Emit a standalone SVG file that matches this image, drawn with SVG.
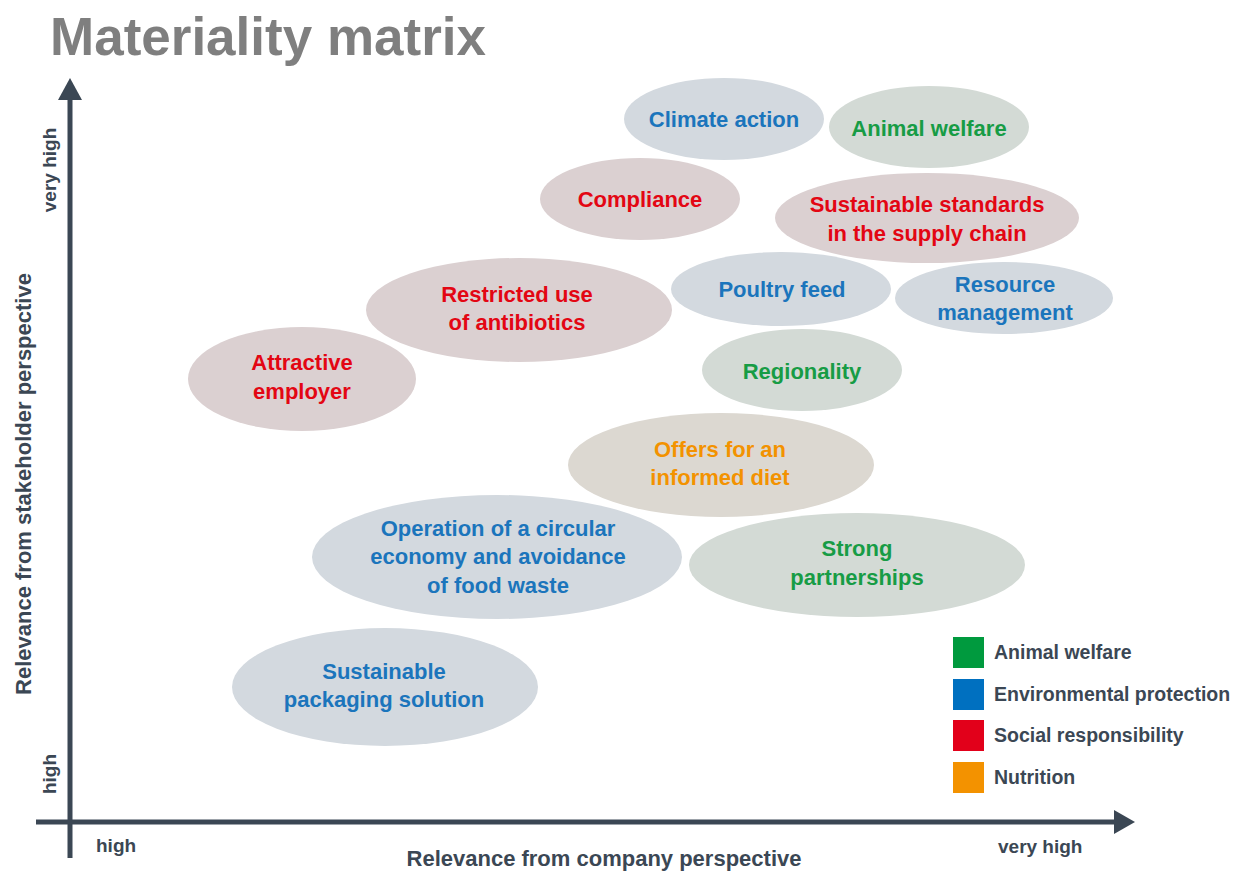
<svg xmlns="http://www.w3.org/2000/svg" width="1247" height="875" viewBox="0 0 1247 875">
<style>
text{font-family:"Liberation Sans",Arial,sans-serif;font-weight:bold}
.lbl{font-size:22px;text-anchor:middle}
.b{fill:#1b75bc}.g{fill:#179c45}.r{fill:#e30613}.o{fill:#f39200}
.eb{fill:#d3d9df}.eg{fill:#d3dad5}.er{fill:#dbd0d1}.eo{fill:#dcd8d1}
.ax{fill:#3b4754}
.leg{font-size:19.5px;fill:#3b4754}
</style>
<rect width="1247" height="875" fill="#ffffff"/>
<text x="50" y="55" font-size="53" fill="#7f7f7f">Materiality matrix</text>

<g id="axes">
<line x1="70" y1="96" x2="70" y2="858" stroke="#3b4754" stroke-width="5"/>
<polygon points="70,78 82,100 58,100" fill="#3b4754"/>
<line x1="36" y1="822" x2="1116" y2="822" stroke="#3b4754" stroke-width="5"/>
<polygon points="1135,822 1114,810 1114,834" fill="#3b4754"/>
<text class="ax" font-size="19" text-anchor="middle" transform="translate(56,170) rotate(-90)">very high</text>
<text class="ax" font-size="19" text-anchor="middle" transform="translate(56,774) rotate(-90)">high</text>
<text class="ax" font-size="22" text-anchor="middle" transform="translate(31,484) rotate(-90)">Relevance from stakeholder perspective</text>
<text class="ax" font-size="19" x="96" y="852">high</text>
<text class="ax" font-size="19" x="998" y="853">very high</text>
<text class="ax" font-size="22" x="604" y="866" text-anchor="middle">Relevance from company perspective</text>
</g>

<g id="climate-action"><ellipse class="eb" cx="724" cy="119" rx="100" ry="41"/><text class="lbl b" x="724" y="127">Climate action</text></g>
<g id="animal-welfare"><ellipse class="eg" cx="929" cy="127" rx="100" ry="41"/><text class="lbl g" x="929" y="136">Animal welfare</text></g>
<g id="compliance"><ellipse class="er" cx="640" cy="199" rx="100" ry="41"/><text class="lbl r" x="640" y="207">Compliance</text></g>
<g id="sustainable-standards"><ellipse class="er" cx="927" cy="218" rx="152" ry="45"/><text class="lbl r" x="927" y="212">Sustainable standards</text><text class="lbl r" x="927" y="241">in the supply chain</text></g>
<g id="restricted-antibiotics"><ellipse class="er" cx="519" cy="310" rx="153" ry="52"/><text class="lbl r" x="517" y="302">Restricted use</text><text class="lbl r" x="517" y="330">of antibiotics</text></g>
<g id="poultry-feed"><ellipse class="eb" cx="781" cy="289" rx="110" ry="37"/><text class="lbl b" x="782" y="297">Poultry feed</text></g>
<g id="resource-management"><ellipse class="eb" cx="1004" cy="298" rx="109" ry="36"/><text class="lbl b" x="1005" y="292">Resource</text><text class="lbl b" x="1005" y="320">management</text></g>
<g id="attractive-employer"><ellipse class="er" cx="302" cy="379" rx="114" ry="52"/><text class="lbl r" x="302" y="370">Attractive</text><text class="lbl r" x="302" y="399">employer</text></g>
<g id="regionality"><ellipse class="eg" cx="802" cy="370" rx="100" ry="41"/><text class="lbl g" x="802" y="379">Regionality</text></g>
<g id="informed-diet"><ellipse class="eo" cx="721" cy="465" rx="153" ry="52"/><text class="lbl o" x="720" y="457">Offers for an</text><text class="lbl o" x="720" y="485">informed diet</text></g>
<g id="circular-economy"><ellipse class="eb" cx="497" cy="557" rx="185" ry="62"/><text class="lbl b" x="498" y="536">Operation of a circular</text><text class="lbl b" x="498" y="564">economy and avoidance</text><text class="lbl b" x="498" y="593">of food waste</text></g>
<g id="strong-partnerships"><ellipse class="eg" cx="857" cy="565" rx="168" ry="52"/><text class="lbl g" x="857" y="556">Strong</text><text class="lbl g" x="857" y="585">partnerships</text></g>
<g id="sustainable-packaging"><ellipse class="eb" cx="385" cy="687" rx="153" ry="59"/><text class="lbl b" x="384" y="679">Sustainable</text><text class="lbl b" x="384" y="707">packaging solution</text></g>

<g id="legend">
<rect x="953" y="637" width="31" height="31" fill="#009a3e"/><text class="leg" x="994" y="659">Animal welfare</text>
<rect x="953" y="679" width="31" height="31" fill="#0070c0"/><text class="leg" x="994" y="701">Environmental protection</text>
<rect x="953" y="720" width="31" height="31" fill="#e2001a"/><text class="leg" x="994" y="742">Social responsibility</text>
<rect x="953" y="762" width="31" height="31" fill="#f39200"/><text class="leg" x="994" y="784">Nutrition</text>
</g>
</svg>
